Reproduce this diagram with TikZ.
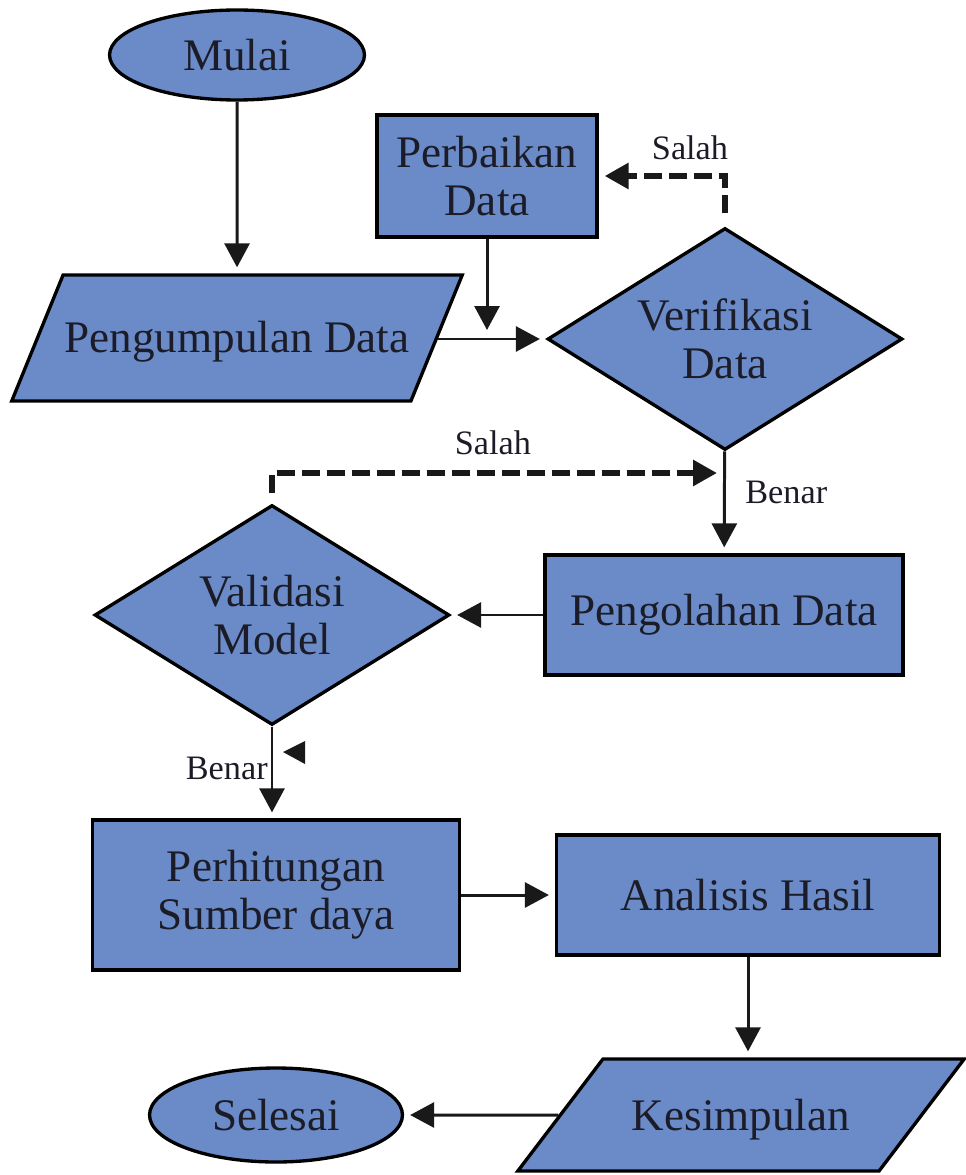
\documentclass[tikz,border=0pt]{standalone}
\usepackage{fontspec}
\setmainfont{Liberation Serif}
\usetikzlibrary{positioning,arrows.meta,shapes.geometric}
\definecolor{boxfill}{HTML}{6A8BC8}
\definecolor{inkdark}{HTML}{1C1C28}

\tikzset{
  base/.style={draw=black, line width=1.9pt, fill=boxfill, text=inkdark, inner sep=0pt, align=center, font=\fontsize{25.7}{27.5}\selectfont},
  term/.style={base, ellipse},
  proc/.style={base, rectangle},
  io/.style={base, trapezium, trapezium stretches=true},
  decide/.style={base, diamond, aspect=1.6},
  flow/.style={-{Triangle[length=0.48cm,width=0.5cm]}, line width=1.7pt, color=black!90, shorten >=0.12cm},
  back/.style={flow, dash pattern=on 0.36cm off 0.14cm, line width=3.4pt},
  lbl/.style={text=inkdark, inner sep=0pt, font=\fontsize{19.5}{22}\selectfont}
}

\begin{document}
\begin{tikzpicture}[x=0.02cm, y=-0.02cm]
\useasboundingbox (0,0) rectangle (965,1175);

% nodes
\node[term, minimum width=5.1cm, minimum height=1.8cm] (mulai) at (237,55) {Mulai};
\node[io, trapezium left angle=68, trapezium right angle=112, text height=1.56cm, text depth=0.96cm, minimum width=9.04cm] (kumpul) at (237,338) {Pengumpulan Data};
\node[proc, minimum width=4.4cm, minimum height=2.44cm] (perbaikan) at (487,176) {Perbaikan\\Data};
\node[decide, minimum width=7.1cm, minimum height=4.44cm] (verif) at (725,339) {Verifikasi\\Data};
\node[proc, minimum width=7.16cm, minimum height=2.4cm] (olah) at (724,615) {Pengolahan Data};
\node[decide, minimum width=7.1cm, minimum height=4.4cm] (valid) at (272,615) {Validasi\\Model};
\node[proc, minimum width=7.34cm, minimum height=3.0cm] (hitung) at (276,895) {Perhitungan\\Sumber daya};
\node[proc, minimum width=7.66cm, minimum height=2.4cm] (analisis) at (748,895) {Analisis Hasil};
\node[io, trapezium left angle=59, trapezium right angle=121, text height=1.42cm, text depth=0.82cm, minimum width=8.94cm] (simpul) at (741,1115) {Kesimpulan};
\node[term, minimum width=5.06cm, minimum height=1.88cm] (selesai) at (276,1115) {Selesai};

% join points
\coordinate (pjoin) at (487,338);
\coordinate (vjoin) at (725,473);

% connectors
\draw[flow] (mulai) -- (kumpul);
\draw[flow] (kumpul.east |- verif.west) -- (verif);
\draw[flow, shorten >=0.16cm] (perbaikan.south) -- (pjoin);
\draw[back, shorten <=0.26cm] (verif.north) |- (perbaikan.east);
\draw[flow] (verif) -- (olah);
\draw[flow] (olah) -- (valid);
\draw[back, shorten <=0.2cm, shorten >=0.16cm] (valid.north) |- (vjoin);
\draw[flow] (valid.south) -- (valid.south |- hitung.north);
\draw[flow] (hitung) -- (analisis);
\draw[flow] (analisis.south) -- (analisis.south |- simpul.north);
\draw[flow] (simpul) -- (selesai);

% labels
\node[lbl] (salah1) at (690,148) {Salah};
\node[lbl] (salah2) at (493,443) {Salah};
\node[lbl, anchor=west] (benar1) at (745,492) {Benar};
\node[lbl, anchor=east] (benar2) at (268,768) {Benar};

% stray tip
\fill[black!90] (283,752) -- (305,741) -- (305,764) -- cycle;
\end{tikzpicture}
\end{document}
